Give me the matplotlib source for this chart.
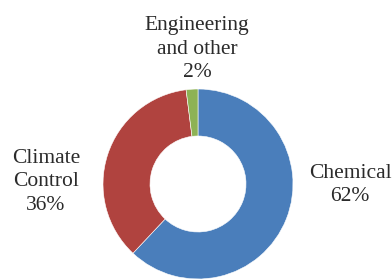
import matplotlib
matplotlib.use("Agg")
from matplotlib import pyplot as plt

labels = ["Chemical", "Climate\nControl", "Engineering\nand other"]
shares = [62, 36, 2]
colors = ["#4A7EBB", "#B0433F", "#8DB255"]

# label positions in pixel coords (x, y from top)
label_pos = [(350, 185), (46, 182), (197, 49)]

fig = plt.figure(figsize=(3.92, 2.8), dpi=100)
ax = fig.add_axes([0, 0, 1, 1])

ax.pie(shares, colors=colors, startangle=90, counterclock=False,
       center=(198, 280 - 184), radius=95, frame=True,
       wedgeprops=dict(width=47, edgecolor="white", linewidth=0.4))
ax.set_xlim(0, 392)
ax.set_ylim(0, 280)
ax.set_aspect("equal")
ax.axis("off")

for lab, val, (px, py) in zip(labels, shares, label_pos):
    ax.text(px, 280 - py, f"{lab}\n{val}%", ha="center", va="center",
            fontsize=15.5, family="Liberation Serif", color="#2b2b2b",
            linespacing=1.3)

fig.savefig("out.png", dpi=100)
